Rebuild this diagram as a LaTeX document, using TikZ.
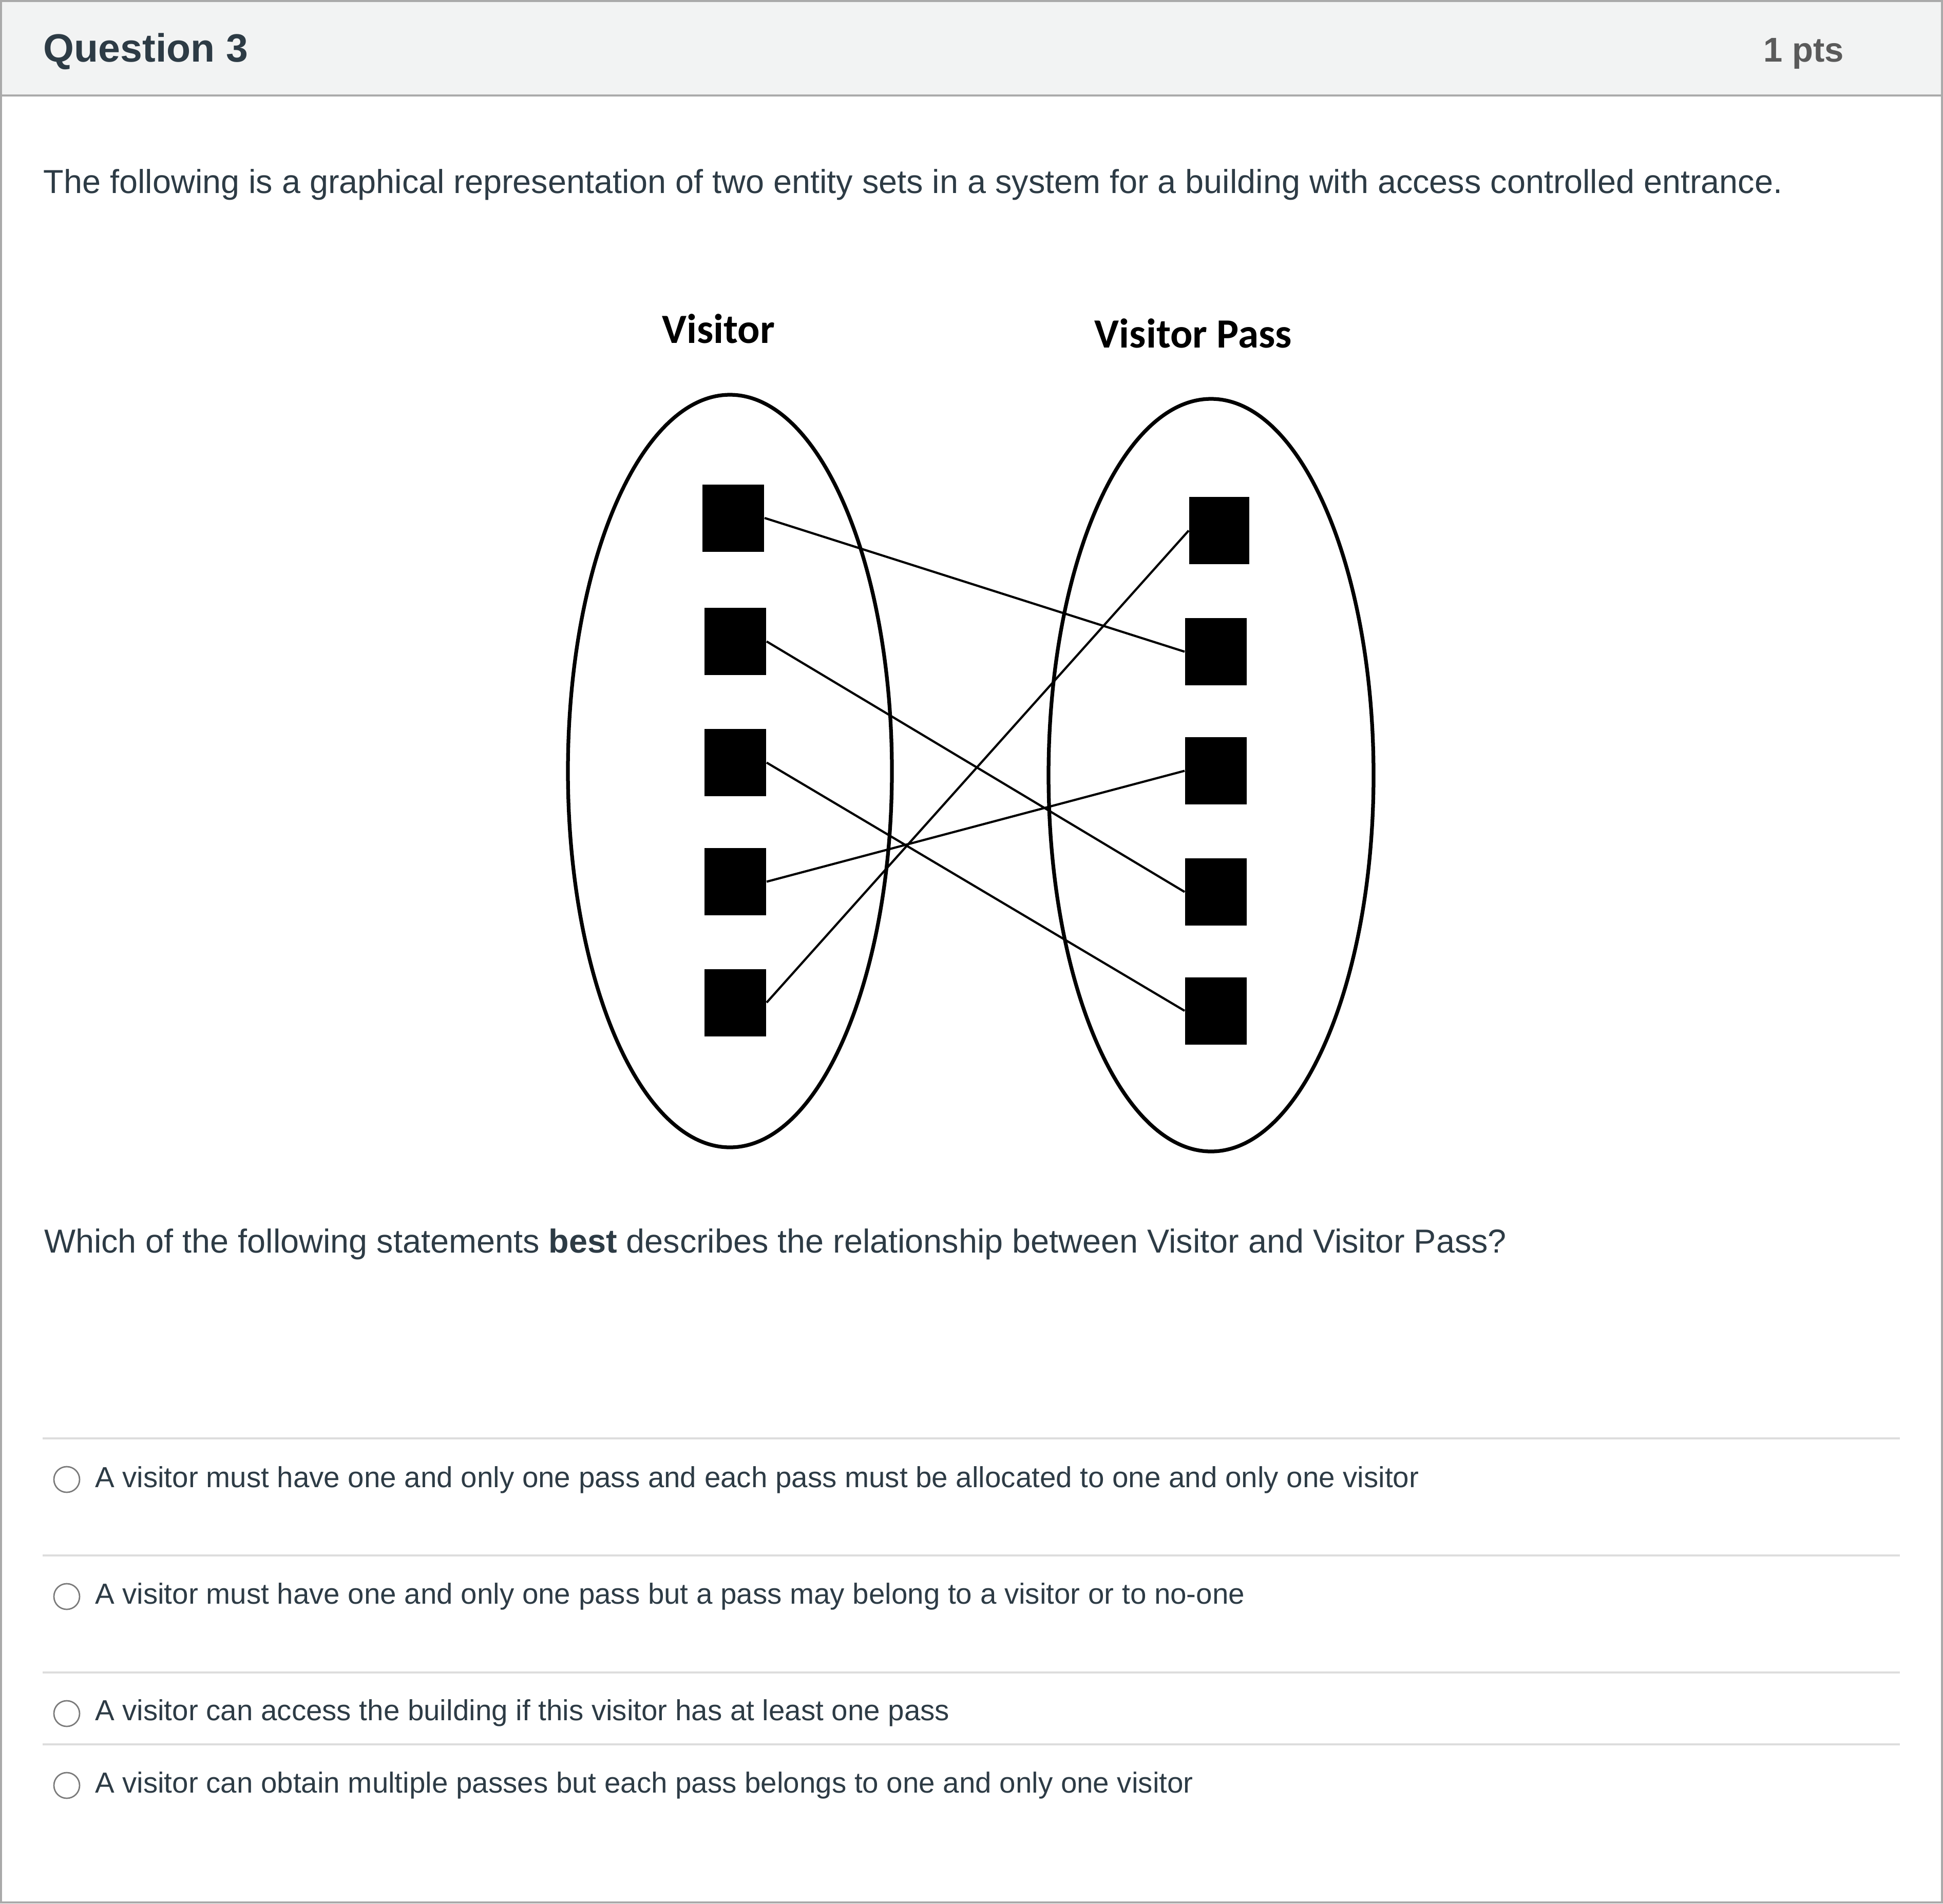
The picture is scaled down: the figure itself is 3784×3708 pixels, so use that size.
\documentclass[tikz,border=0pt]{standalone}
\usepackage{fontspec}
\setmainfont{Liberation Sans}
\newfontfamily\calibrifont{Carlito}
\definecolor{txt}{HTML}{2D3B45}
\definecolor{ptsgray}{HTML}{5A5A5A}
\definecolor{bordergray}{HTML}{AAAAAA}
\definecolor{headfill}{HTML}{F2F3F3}
\definecolor{sepgray}{HTML}{DDDDDD}
\definecolor{radiogray}{HTML}{7A7A7A}
\tikzset{
  txtnode/.style={anchor=base west, inner sep=0pt, text=txt},
  bodytext/.style={txtnode, font=\fontsize{12.95pt}{15pt}\selectfont},
  opttext/.style={txtnode, font=\fontsize{11.3pt}{13.5pt}\selectfont},
  setlabel/.style={anchor=base, inner sep=0pt, text=black, font=\calibrifont\bfseries\fontsize{16.2pt}{19pt}\selectfont},
  entity/.style={fill=black, draw=none, inner sep=0pt, minimum width=24pt, minimum height=26.2pt},
  setoval/.style={draw=black, line width=1.45pt},
  conn/.style={draw=black, line width=0.85pt},
  radio/.style={draw=radiogray, line width=0.55pt, fill=white},
  sepline/.style={draw=sepgray, line width=0.8pt},
}
\begin{document}
\begin{tikzpicture}[x=0.2pt, y=-0.2pt]
\useasboundingbox (0,0) rectangle (3784,3708);
% header band
\fill[headfill] (4,4) rectangle (3780,184);
\draw[bordergray, line width=0.8pt] (0,186) -- (3784,186);
\draw[bordergray, line width=0.8pt] (2,2) rectangle (3782,3706);
\node[txtnode, font=\bfseries\fontsize{15.4pt}{18pt}\selectfont] (qtitle) at (84,120) {Question 3};
\node[anchor=base east, inner sep=0pt, text=ptsgray, font=\bfseries\fontsize{13.4pt}{16pt}\selectfont] (qpts) at (3592,120) {1 pts};
% intro text
\node[bodytext] (intro) at (84,376) {The following is a graphical representation of two entity sets in a system for a building with access controlled entrance.};
% diagram
\node[setlabel] (lblv) at (1399,668) {Visitor};
\node[setlabel] (lblp) at (2324,677) {Visitor Pass};
\draw[setoval] (1421.5,1502) ellipse [x radius=315.5, y radius=733];
\draw[setoval] (2358.5,1510) ellipse [x radius=316.5, y radius=733];
\node[entity] (l1) at (1428,1009) {};
\node[entity] (l2) at (1432,1249.5) {};
\node[entity] (l3) at (1432,1485.5) {};
\node[entity] (l4) at (1432,1717.5) {};
\node[entity] (l5) at (1432,1953) {};
\node[entity, minimum width=23.4pt] (r1) at (2374.5,1033.5) {};
\node[entity] (r2) at (2368,1269.5) {};
\node[entity] (r3) at (2368,1501.5) {};
\node[entity] (r4) at (2368,1737.5) {};
\node[entity] (r5) at (2368,1969) {};
\draw[conn] (l1.east) -- (r2.west);
\draw[conn] (l2.east) -- (r4.west);
\draw[conn] (l3.east) -- (r5.west);
\draw[conn] (l4.east) -- (r3.west);
\draw[conn] (l5.east) -- (r1.west);
% question
\node[bodytext] (question) at (85,2440) {Which of the following statements \textbf{best} describes the relationship between Visitor and Visitor Pass?};
% separators
\draw[sepline] (83,2802) -- (3700,2802);
\draw[sepline] (83,3030) -- (3700,3030);
\draw[sepline] (83,3258) -- (3700,3258);
\draw[sepline] (83,3398) -- (3700,3398);
% options
\node[radio, circle, minimum size=10pt, inner sep=0pt] (rb1) at (130,2882) {};
\node[opttext] (opt1) at (184,2897) {A visitor must have one and only one pass and each pass must be allocated to one and only one visitor};
\node[radio, circle, minimum size=10pt, inner sep=0pt] (rb2) at (130,3110) {};
\node[opttext] (opt2) at (184,3124) {A visitor must have one and only one pass but a pass may belong to a visitor or to no-one};
\node[radio, circle, minimum size=10pt, inner sep=0pt] (rb3) at (130,3338) {};
\node[opttext] (opt3) at (184,3351) {A visitor can access the building if this visitor has at least one pass};
\node[radio, circle, minimum size=10pt, inner sep=0pt] (rb4) at (130,3478) {};
\node[opttext] (opt4) at (184,3492) {A visitor can obtain multiple passes but each pass belongs to one and only one visitor};
\end{tikzpicture}
\end{document}
